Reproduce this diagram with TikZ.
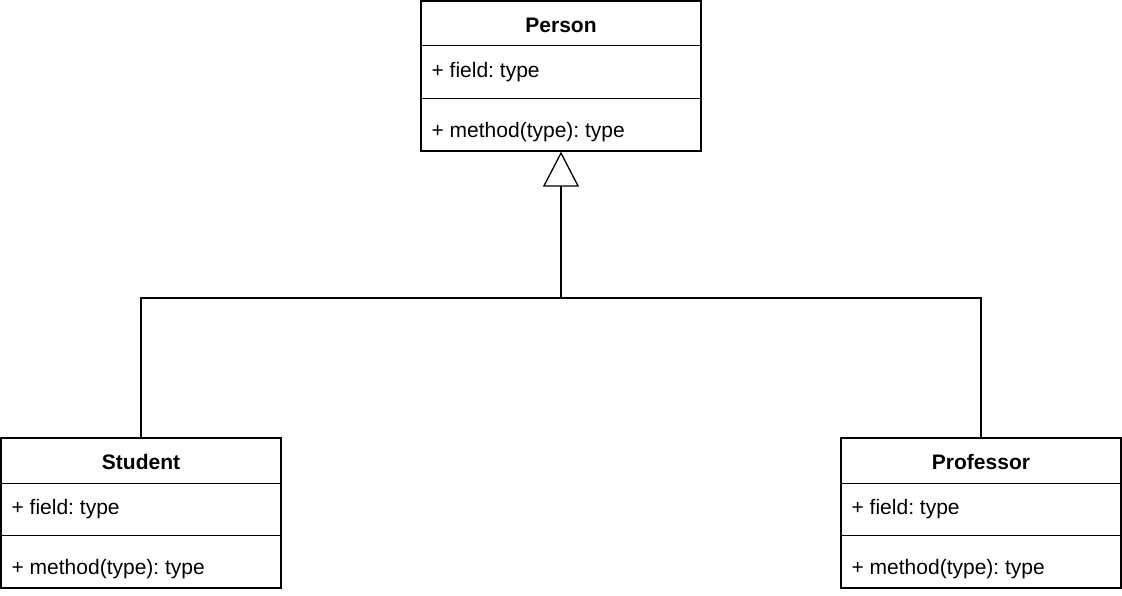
\documentclass[tikz,border=0pt]{standalone}
\usepackage{fontspec}
\setmainfont{Liberation Sans}
\usetikzlibrary{arrows.meta}
\frenchspacing

\begin{document}
\begin{tikzpicture}[x=1pt, y=-1pt, line width=1.3pt,
    classbox/.style={draw, minimum width=280pt, minimum height=150pt, inner sep=0pt},
    classname/.style={anchor=base, font=\fontsize{21}{25}\selectfont\bfseries, inner sep=0pt},
    member/.style={anchor=base west, font=\fontsize{21}{25}\selectfont, inner sep=0pt}]
    \useasboundingbox (0,0) rectangle (1122,595);
    % Person
    \node [classbox] (P) at (561, 76) {};
    \draw ([yshift=-45pt]P.north west) -- ([yshift=-45pt]P.north east);
    \draw ([yshift=-98pt]P.north west) -- ([yshift=-98pt]P.north east);
    \node [classname] (Pname) at (561, 32) {Person};
    \node [member] (Pfield) at (431, 77) {+ field: type};
    \node [member] (Pmethod) at (431, 137) {+ method(type): type};
    % Student
    \node [classbox] (S) at (141, 513) {};
    \draw ([yshift=-46pt]S.north west) -- ([yshift=-46pt]S.north east);
    \draw ([yshift=-98pt]S.north west) -- ([yshift=-98pt]S.north east);
    \node [classname] (Sname) at (141, 469) {Student};
    \node [member] (Sfield) at (11, 514) {+ field: type};
    \node [member] (Smethod) at (11, 574) {+ method(type): type};
    % Professor
    \node [classbox] (R) at (981, 513) {};
    \draw ([yshift=-46pt]R.north west) -- ([yshift=-46pt]R.north east);
    \draw ([yshift=-98pt]R.north west) -- ([yshift=-98pt]R.north east);
    \node [classname] (Rname) at (981, 469) {Professor};
    \node [member] (Rfield) at (851, 514) {+ field: type};
    \node [member] (Rmethod) at (851, 574) {+ method(type): type};
    % generalization
    \coordinate (J) at (561, 298);
    \draw (S.north) |- (J) -| (R.north);
    \draw [-{Triangle[open, length=35pt, width=36pt, line width=1.3pt]}] (J) -- (P.south);
\end{tikzpicture}
\end{document}
